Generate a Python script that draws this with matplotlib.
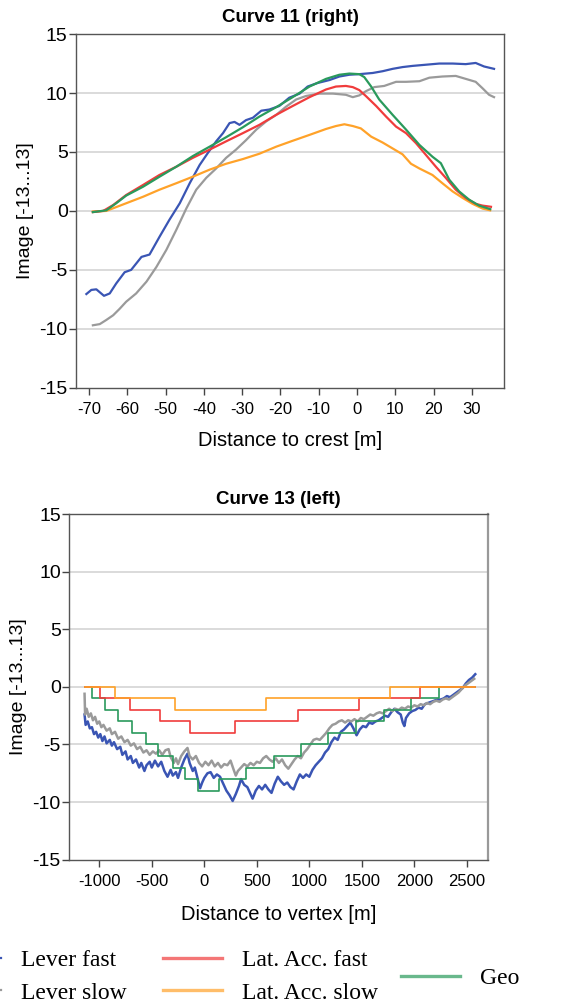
import numpy as np
import matplotlib
matplotlib.use("Agg")
import matplotlib.pyplot as plt

plt.rcParams['font.family'] = ['Liberation Sans', 'DejaVu Sans']
plt.rcParams['axes.unicode_minus'] = False

# ---- colours / labels
c_blue = '#3a55b4'
c_gray = '#9a9a9a'
c_red = '#f03c3c'
c_orange = '#ffa229'
c_green = '#2a9a5c'

# ================= Curve 11 (right) =================
lf_x = [-70.7, -69.4, -68.1, -66.1, -64.6, -62.9, -60.7, -59.0, -56.3, -54.2, -51.6, -49.0, -46.3, -43.7,
        -41.1, -39.0, -36.8, -35.0, -33.3, -32.0, -30.7, -29.0, -27.2, -25.0, -22.9, -20.3, -17.7, -15.0,
        -12.9, -10.3, -7.2, -4.6, -2.0, 0.6, 4.1, 6.7, 9.3, 11.9, 14.5, 18.0, 21.5, 25.0, 28.4, 31.0, 33.2, 35.8]
lf_y = [-7.05, -6.7, -6.65, -7.2, -7.0, -6.15, -5.2, -5.0, -3.9, -3.7, -2.2, -0.75, 0.65, 2.35,
        3.9, 4.9, 5.9, 6.6, 7.45, 7.55, 7.3, 7.7, 7.9, 8.5, 8.6, 8.9, 9.6, 9.95,
        10.55, 10.85, 11.1, 11.4, 11.55, 11.6, 11.7, 11.85, 12.05, 12.2, 12.3, 12.4, 12.5, 12.5, 12.45, 12.55, 12.25, 12.05]

ls_x = [-69.0, -67.2, -65.5, -63.7, -62.0, -60.3, -57.7, -55.0, -52.4, -49.8, -47.2, -44.6, -42.0, -39.4,
        -36.8, -34.2, -31.6, -29.0, -26.3, -23.7, -21.1, -18.5, -15.9, -13.3, -9.8, -6.3, -2.9, -1.1, 0.6,
        2.3, 4.5, 7.1, 10.2, 12.8, 16.3, 18.9, 22.3, 25.8, 28.4, 31.0, 32.8, 34.5, 35.8]
ls_y = [-9.7, -9.6, -9.25, -8.85, -8.3, -7.7, -7.0, -6.0, -4.75, -3.3, -1.6, 0.2, 1.8, 2.8,
        3.6, 4.5, 5.2, 6.0, 6.9, 7.6, 8.15, 8.85, 9.45, 9.75, 9.95, 9.95, 9.85, 9.65, 9.8,
        10.15, 10.5, 10.6, 10.95, 10.95, 11.0, 11.3, 11.4, 11.45, 11.2, 10.95, 10.4, 9.85, 9.65]

laf_x = [-69.0, -66.3, -63.7, -60.3, -55.9, -51.6, -47.2, -42.9, -38.5, -34.2, -29.8, -25.5, -21.1, -16.8,
         -12.4, -8.1, -5.5, -2.9, -1.1, 0.6, 2.3, 5.0, 7.6, 10.2, 12.8, 15.4, 18.0, 20.6, 23.2, 25.8,
         28.4, 31.0, 32.8, 35.0]
laf_y = [-0.1, 0, 0.5, 1.35, 2.2, 3.05, 3.75, 4.5, 5.2, 5.9, 6.6, 7.3, 8.15, 8.9,
         9.65, 10.3, 10.55, 10.6, 10.5, 10.25, 9.75, 8.9, 8.0, 7.15, 6.6, 5.75, 4.75, 3.75, 2.8, 1.8,
         1.1, 0.6, 0.45, 0.35]

geo_x = [-69.0, -65.5, -62.9, -60.3, -55.9, -51.6, -47.2, -42.9, -38.5, -34.2, -29.8, -25.5, -21.1, -16.8,
         -12.4, -8.1, -4.6, -2.0, 0.6, 1.9, 3.7, 5.8, 9.3, 12.8, 16.3, 19.7, 21.9, 24.1, 26.7, 29.3, 31.9, 34.8]
geo_y = [-0.1, 0.05, 0.65, 1.3, 2.05, 2.9, 3.75, 4.65, 5.45, 6.25, 7.1, 8.0, 8.8, 9.65,
         10.55, 11.2, 11.55, 11.65, 11.6, 11.35, 10.55, 9.45, 8.15, 6.9, 5.6, 4.6, 4.05, 2.65, 1.65, 0.95, 0.45, 0.15]

las_x = [-69.0, -65.5, -60.3, -55.9, -51.6, -47.2, -42.9, -38.5, -34.2, -29.8, -25.5, -21.1, -16.8, -12.4,
         -8.1, -5.5, -3.3, -1.1, 1.0, 3.7, 6.7, 9.3, 11.9, 14.1, 16.3, 19.7, 22.3, 25.0, 27.6, 30.2, 32.8, 34.8]
las_y = [-0.05, 0, 0.65, 1.2, 1.8, 2.35, 2.9, 3.5, 4.0, 4.4, 4.85, 5.45, 5.95, 6.45,
         6.95, 7.2, 7.35, 7.2, 7.0, 6.3, 5.8, 5.3, 4.8, 4.0, 3.6, 3.05, 2.35, 1.65, 1.1, 0.6, 0.2, 0.05]

# ================= Curve 13 (left) =================
b_lf_x = [-1140, -1130, -1110, -1090, -1070, -1050, -1030, -1010, -990, -970, -950, -930, -900, -880, -860,
          -830, -800, -780, -750, -730, -700, -680, -650, -620, -600, -570, -550, -520, -500, -470, -440,
          -410, -380, -350, -320, -300, -270, -250, -220, -190, -160, -140, -110, -90, -60, -40, -20, 0,
          30, 60, 90, 120, 150, 180, 210, 240, 270, 300, 330, 350, 380, 410, 440, 460, 490, 520, 550,
          580, 610, 640, 670, 700, 730, 760, 790, 820, 850, 880, 910, 940, 970, 1000, 1030, 1060, 1090,
          1120, 1150, 1180, 1210, 1240, 1270, 1300, 1330, 1360, 1390, 1420, 1450, 1480, 1510, 1540, 1570,
          1600, 1630, 1660, 1690, 1720, 1750, 1780, 1810, 1840, 1870, 1890, 1905, 1920, 1950, 1980, 2010,
          2040, 2070, 2100, 2130, 2160, 2190, 2220, 2250, 2280, 2310, 2340, 2370, 2400, 2430, 2460, 2490,
          2520, 2550, 2580]
b_lf_y = [-2.4, -3.3, -3.0, -3.6, -3.5, -4.1, -3.9, -4.4, -4.1, -4.7, -4.3, -4.9, -4.6, -5.1, -4.8,
          -5.4, -5.2, -5.9, -5.6, -6.3, -6.0, -6.6, -6.3, -7.0, -6.6, -7.3, -6.8, -6.5, -7.0, -6.4, -6.9,
          -6.5, -7.3, -7.8, -7.2, -7.7, -7.4, -7.9, -7.0, -6.3, -5.8, -6.6, -7.3, -7.0, -8.1, -8.8, -8.3, -7.9,
          -7.5, -7.4, -7.9, -7.6, -7.8, -8.4, -9.0, -9.4, -9.9, -9.3, -8.6, -8.0, -8.5, -8.7, -9.3, -9.7, -9.0, -8.6, -8.9,
          -8.5, -8.9, -9.2, -8.4, -7.8, -8.2, -8.5, -8.3, -8.7, -8.9, -8.2, -7.6, -7.9, -7.6, -7.8, -7.2, -6.8, -6.5,
          -6.2, -5.7, -5.4, -4.8, -4.4, -4.6, -3.9, -3.7, -3.4, -3.1, -3.6, -4.2, -3.7, -3.4, -3.5, -3.1,
          -3.2, -3.0, -2.9, -2.7, -2.5, -2.6, -2.2, -1.9, -2.2, -2.4, -3.1, -3.4, -2.7, -2.3, -2.1, -2.0,
          -1.8, -1.9, -1.5, -1.4, -1.3, -1.2, -1.1, -1.1, -1.0, -0.8, -0.9, -0.7, -0.5, -0.3, -0.1, 0.3,
          0.6, 0.8, 1.1]

b_ls_x = [-1140, -1135, -1120, -1100, -1080, -1060, -1040, -1020, -1000, -980, -960, -930, -900, -880, -850,
          -820, -790, -760, -730, -700, -670, -640, -610, -580, -550, -520, -490, -460, -430, -400, -370,
          -340, -320, -290, -270, -250, -220, -190, -160, -140, -110, -80, -50, -20, 10, 40, 70, 100, 130,
          160, 190, 220, 250, 280, 300, 320, 350, 380, 410, 440, 470, 500, 530, 560, 590, 620, 650, 680,
          710, 740, 770, 800, 830, 860, 890, 920, 950, 980, 1010, 1040, 1070, 1100, 1130, 1160, 1190, 1220,
          1250, 1280, 1310, 1340, 1370, 1400, 1430, 1460, 1490, 1520, 1550, 1580, 1610, 1640, 1670, 1700,
          1730, 1760, 1790, 1820, 1850, 1880, 1910, 1940, 1970, 2000, 2030, 2060, 2090, 2120, 2150, 2180,
          2210, 2240, 2270, 2300, 2330, 2360, 2390, 2420, 2450, 2480, 2510, 2540, 2570]
b_ls_y = [-0.6, -2.4, -1.9, -2.6, -2.3, -2.9, -2.6, -3.2, -3.0, -3.5, -3.3, -3.8, -3.6, -4.1, -3.9,
          -4.5, -4.3, -4.8, -4.6, -5.1, -4.9, -5.4, -5.2, -5.7, -5.5, -5.9, -5.6, -5.8, -5.5, -5.9, -5.5,
          -5.4, -6.1, -6.6, -6.2, -6.7, -6.0, -5.6, -5.3, -6.0, -6.3, -6.0, -6.6, -6.9, -6.5, -6.8, -6.4, -6.9, -6.6,
          -7.0, -6.7, -6.8, -6.4, -7.2, -7.7, -7.3, -7.0, -6.7, -6.9, -6.6, -6.8, -6.5, -6.6, -6.2, -6.0, -6.3, -6.5, -6.2,
          -6.6, -6.3, -6.8, -7.1, -6.7, -6.3, -6.0, -6.2, -5.7, -5.4, -5.0, -4.6, -4.5, -4.6, -4.3, -4.0, -3.6, -3.3,
          -3.2, -3.0, -2.9, -3.1, -2.9, -3.0, -2.8, -3.0, -2.7, -2.8, -2.6, -2.4, -2.5, -2.3, -2.2, -2.3,
          -2.1, -1.9, -2.1, -1.9, -2.0, -1.8, -1.9, -1.7, -1.8, -1.6, -1.7, -1.5, -1.6, -1.4, -1.5, -1.3,
          -1.2, -1.3, -1.1, -1.0, -1.1, -0.9, -0.7, -0.5, -0.2, 0.1, 0.3, 0.5, 0.7]

b_laf_x = [-1136, -990, -704, -419, -133, 295, 888, 1475, 2056, 2579]
b_laf_y = [0, -1, -2, -3, -4, -3, -2, -1, 0, 0]
b_las_x = [-1136, -847, -276, 587, 1770, 2579]
b_las_y = [0, -1, -2, -1, 0, 0]
b_geo_x = [-1136, -1072, -945, -819, -692, -555, -438, -301, -184, -57, 143, 397, 660, 920, 1174,
           1444, 1707, 1967, 2230, 2579]
b_geo_y = [0, -1, -2, -3, -4, -5, -6, -7, -8, -9, -8, -7, -6, -5, -4, -3, -2, -1, 0, 0]

yticks = [15, 10, 5, 0, -5, -10, -15]

fig = plt.figure(figsize=(5.76, 10.02), dpi=100)
ax1 = fig.add_axes([0.132, 0.613, 0.743, 0.353])
ax2 = fig.add_axes([0.120, 0.142, 0.727, 0.345])

lw = 1.6
ax1.plot(lf_x, lf_y, color=c_blue, lw=lw, label='Lever fast')
ax1.plot(ls_x, ls_y, color=c_gray, lw=lw, label='Lever slow')
ax1.plot(las_x, las_y, color=c_orange, lw=lw, label='Lat. Acc. slow')
ax1.plot(laf_x, laf_y, color=c_red, lw=lw, label='Lat. Acc. fast')
ax1.plot(geo_x, geo_y, color=c_green, lw=lw, label='Geo')
ax1.set_xlim(-73.4, 38.4)
ax1.set_xticks([-70, -60, -50, -40, -30, -20, -10, 0, 10, 20, 30])
ax1.set_title('Curve 11 (right)', fontsize=13.5, fontweight='bold', pad=9)
ax1.set_xlabel('Distance to crest [m]', fontsize=14.5, labelpad=10)

ax2.plot(b_lf_x, b_lf_y, color=c_blue, lw=1.8)
ax2.plot(b_ls_x, b_ls_y, color=c_gray, lw=1.8)
ax2.plot(b_geo_x, b_geo_y, color=c_green, lw=1.2, drawstyle='steps-post')
ax2.plot(b_laf_x, b_laf_y, color=c_red, lw=1.2, drawstyle='steps-post')
ax2.plot(b_las_x, b_las_y, color=c_orange, lw=1.2, drawstyle='steps-post')
ax2.set_xlim(-1287, 2700)
ax2.set_xticks([-1000, -500, 0, 500, 1000, 1500, 2000, 2500])
ax2.set_title('Curve 13 (left)', fontsize=13.5, fontweight='bold', pad=7)
ax2.set_xlabel('Distance to vertex [m]', fontsize=14.5, labelpad=12)

for ax in (ax1, ax2):
    ax.set_ylim(-15, 15)
    ax.set_yticks(yticks)
    ax.set_ylabel('Image [-13...13]', fontsize=14, labelpad=4)
    for g in [10, 5, 0, -5, -10]:
        ax.axhline(g, color='#d8d8d8', lw=1.3, zorder=0)
    ax.tick_params(length=5, width=1.0, color='#444444')
    ax.tick_params(axis='x', labelsize=12, pad=5)
    ax.tick_params(axis='y', labelsize=14, pad=1)
    for s in ax.spines.values():
        s.set_color('#555555')
        s.set_linewidth(1.0)
ax2.spines['right'].set_color('#999999')
ax2.spines['right'].set_linewidth(1.6)

# legend at bottom (three groups)
h = ax1.get_legend_handles_labels()[0]
leg_kw = dict(frameon=False, prop={'family': 'Liberation Serif', 'size': 17},
              handlelength=2.5, handletextpad=0.85, labelspacing=0.45, borderpad=0, borderaxespad=0)
l1 = fig.legend([h[0], h[1]], ['Lever fast', 'Lever slow'], loc='upper left',
                bbox_to_anchor=(-0.101, 0.052), **leg_kw)
l2 = fig.legend([h[3], h[2]], ['Lat. Acc. fast', 'Lat. Acc. slow'], loc='upper left',
                bbox_to_anchor=(0.283, 0.052), **leg_kw)
l3 = fig.legend([h[4]], ['Geo'], loc='upper left',
                bbox_to_anchor=(0.696, 0.0345), **leg_kw)
for lg in (l2, l3):
    for ln in lg.get_lines():
        ln.set_alpha(0.7)
        ln.set_linewidth(2.4)

fig.savefig('out.png', dpi=100)
